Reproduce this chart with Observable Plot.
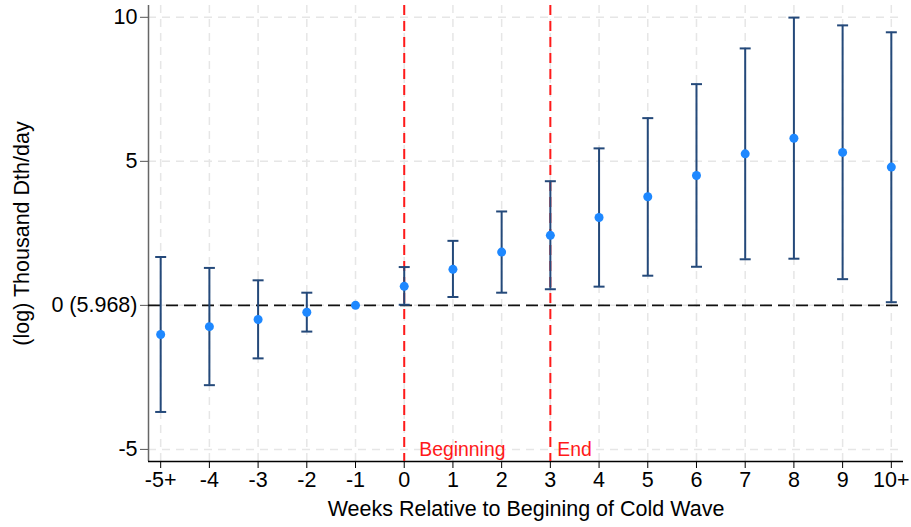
<!DOCTYPE html>
<html>
<head>
<meta charset="utf-8">
<script src="https://cdn.jsdelivr.net/npm/d3@7"></script>
<script src="https://cdn.jsdelivr.net/npm/@observablehq/plot@0.6"></script>
<style>
  html, body { margin: 0; padding: 0; background: #fff; }
</style>
</head>
<body>
<div id="chart"></div>
<script>
const weeks = [-5, -4, -3, -2, -1, 0, 1, 2, 3, 4, 5, 6, 7, 8, 9, 10];
const weekLabels = ["-5+", "-4", "-3", "-2", "-1", "0", "1", "2", "3", "4", "5", "6", "7", "8", "9", "10+"];
const estimate = [-1.01, -0.74, -0.49, -0.24, 0, 0.66, 1.25, 1.85, 2.43, 3.05, 3.77, 4.51, 5.26, 5.80, 5.31, 4.80];
const lower = [-3.70, -2.77, -1.84, -0.91, null, 0.02, 0.29, 0.44, 0.56, 0.65, 1.03, 1.34, 1.60, 1.62, 0.91, 0.11];
const upper = [1.68, 1.30, 0.87, 0.44, null, 1.33, 2.24, 3.26, 4.31, 5.45, 6.50, 7.68, 8.92, 9.99, 9.72, 9.48];
const yTicks = [-5, 0, 5, 10];
const yTickLabels = ["-5", "0 (5.968)", "5", "10"];
const eventWeeks = [0, 3];

const rows = weeks.map((w, i) => ({week: w, est: estimate[i], lo: lower[i], hi: upper[i]}));
const bars = rows.filter(d => d.lo != null);

const xDomain = [-5.25, 10.25];
const yDomain = [-5.42, 10.41];

const capSymbol = {
  draw(context, size) {
    const w = Math.sqrt(size / Math.PI);
    context.moveTo(-w, 0);
    context.lineTo(w, 0);
  }
};

const barColor = "#24497a";
const dotColor = "#1e88ff";

const chart = Plot.plot({
  width: 911,
  height: 527,
  marginLeft: 148,
  marginRight: 8,
  marginTop: 5,
  marginBottom: 66,
  style: {fontFamily: "'Liberation Sans', Arial, sans-serif", fontSize: "21px", color: "#000", background: "#fff"},
  x: {domain: xDomain},
  y: {domain: yDomain},
  marks: [
    Plot.gridX(weeks, {stroke: "#e6e6e6", strokeOpacity: 1, strokeWidth: 1.5, strokeDasharray: "8,6"}),
    Plot.gridY(yTicks, {stroke: "#e6e6e6", strokeOpacity: 1, strokeWidth: 1.5, strokeDasharray: "8,6"}),
    Plot.ruleX([xDomain[0]], {stroke: "#666", strokeWidth: 1.5}),
    Plot.ruleY([yDomain[0]], {stroke: "#000", strokeWidth: 1.5}),
    Plot.axisX(weeks, {tickFormat: d => weekLabels[weeks.indexOf(d)], tickSize: 7, tickPadding: 3, fontSize: 21.5, label: null, stroke: "#000"}),
    Plot.axisY(yTicks, {tickFormat: d => yTickLabels[yTicks.indexOf(d)], tickSize: 8, tickPadding: 3, fontSize: 21.5, label: null, stroke: "#555"}),
    Plot.ruleX(eventWeeks, {stroke: "#ff1a1a", strokeWidth: 2, strokeDasharray: "10,6"}),
    Plot.ruleY([0], {stroke: "#111", strokeWidth: 1.8, strokeDasharray: "12,6"}),
    Plot.ruleX(bars, {x: "week", y1: "lo", y2: "hi", stroke: barColor, strokeWidth: 2}),
    Plot.dot(bars, {x: "week", y: "lo", symbol: capSymbol, r: 5.5, stroke: barColor, strokeWidth: 2, fill: "none"}),
    Plot.dot(bars, {x: "week", y: "hi", symbol: capSymbol, r: 5.5, stroke: barColor, strokeWidth: 2, fill: "none"}),
    Plot.dot(rows, {x: "week", y: "est", r: 4.5, fill: dotColor, stroke: "none"}),
    Plot.text(["Beginning"], {x: eventWeeks[0], frameAnchor: "bottom", dy: -6, dx: 15, textAnchor: "start", fill: "#ff1a1a", fontSize: 19.4}),
    Plot.text(["End"], {x: eventWeeks[1], frameAnchor: "bottom", dy: -6, dx: 7, textAnchor: "start", fill: "#ff1a1a", fontSize: 19.4}),
    Plot.text(["Weeks Relative to Begining of Cold Wave"], {frameAnchor: "bottom", dy: 54, fontSize: 21.5, fill: "#000"}),
    Plot.text(["(log) Thousand Dth/day"], {frameAnchor: "left", textAnchor: "middle", dx: -126, rotate: -90, fontSize: 21.5, fill: "#000"})
  ]
});
document.getElementById("chart").appendChild(chart);
</script>
</body>
</html>
